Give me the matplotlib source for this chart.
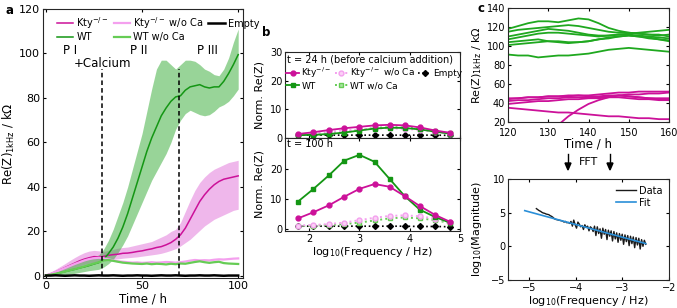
import numpy as np
import matplotlib.pyplot as plt

plt.rcParams['font.family'] = ['DejaVu Sans']
plt.rcParams['font.size'] = 7.5
plt.rcParams['axes.linewidth'] = 0.8
plt.rcParams['axes.edgecolor'] = '#262626'
plt.rcParams['xtick.direction'] = 'in'
plt.rcParams['ytick.direction'] = 'in'
plt.rcParams['xtick.top'] = True
plt.rcParams['ytick.right'] = True
plt.rcParams['xtick.major.size'] = 2.5
plt.rcParams['ytick.major.size'] = 2.5
plt.rcParams['xtick.major.pad'] = 2
plt.rcParams['ytick.major.pad'] = 2
plt.rcParams['mathtext.default'] = 'regular'

KTY = '#cc1199'
KTY_BAND = '#e070d8'
KTY_NOCA = '#f4a0ee'
WT = '#149614'
WT_BAND = '#33aa33'
WT_NOCA = '#66cc55'

# ---------------- panel a: Re(Z) at 1 kHz vs time ----------------
t_a = np.arange(0, 100.1, 2.5)
wt_mean = [0.3, 0.6, 1.0, 1.5, 2.0, 2.5, 3.0, 3.6, 4.1, 4.7, 5.4, 6.0, 7.5, 10, 13, 17, 22, 28, 35,
           42, 49, 56, 62, 67, 72, 75.5, 78.5, 80.5, 81, 83.5, 85, 85.5, 86, 85, 84.5, 85, 85,
           87.5, 91, 95, 99.5]
wt_hi = [0.8, 1.3, 2, 3, 4, 5, 5.8, 6.5, 7.2, 8, 8.6, 9.5, 12, 16, 21, 27, 33, 40, 48, 56, 64, 74,
         84, 93, 97, 97, 95, 93, 95, 97, 97, 96.5, 95, 93, 92, 90.5, 90, 93, 98, 105, 111]
wt_lo = [0, 0.1, 0.3, 0.5, 0.6, 0.9, 1.2, 1.6, 2.0, 2.4, 2.7, 3.0, 4, 5.5, 7.5, 10.5, 14, 18, 23,
         28, 33, 38, 43, 47, 51, 55, 60, 66, 70, 73, 74.5, 73.5, 72.5, 72, 72.5, 74, 76, 77,
         78.5, 81, 84]
kty_mean = [0.3, 1.0, 1.8, 2.8, 3.8, 4.8, 5.8, 6.8, 7.6, 8.2, 8.7, 8.6, 8.8, 9.3, 9.6, 9.8, 10.2,
            10.3, 10.6, 11.0, 11.3, 11.8, 12.2, 12.8, 13.2, 14, 15, 16.5, 18.5, 21.5, 25.5, 29.5,
            33.5, 36.5, 39, 41, 42.5, 43.5, 44, 44.5, 45]
kty_hi = [0.6, 1.8, 3, 4.3, 5.6, 7, 8.3, 9.5, 10.5, 11.2, 11.5, 11.3, 11, 11.5, 12, 12.5, 12.8, 13,
          13.5, 14, 14.5, 15, 15.5, 16.5, 17.5, 18.5, 20, 21, 24, 29, 34, 38.5, 42, 44.5, 46.5,
          48, 49, 50, 51, 51.5, 52]
kty_lo = [0, 0.3, 0.8, 1.5, 2.2, 3, 3.8, 4.5, 5.2, 5.8, 6.2, 6.5, 7, 7.3, 7.5, 7.7, 8, 8.2, 8.4,
          8.6, 8.9, 9.2, 9.5, 9.8, 10.2, 10.8, 11.5, 12.3, 13.5, 15, 16.5, 18.5, 20.5, 22.5, 24,
          25.5, 26.5, 27.5, 28.5, 29.5, 30]
kty_noca = [0.3, 1.0, 1.8, 2.7, 3.6, 4.5, 5.4, 6.2, 7.0, 7.6, 8.0, 8.2, 8.0, 7.5, 7.0, 6.6, 6.4,
            6.2, 6.0, 6.1, 5.9, 6.0, 6.2, 6.0, 6.1, 6.3, 6.2, 6.0, 6.2, 6.5, 6.9, 7.2, 7.0, 7.1,
            7.0, 7.3, 7.5, 7.4, 7.6, 7.8, 7.9]
wt_noca = [0.3, 0.6, 1.0, 1.5, 2.0, 2.6, 3.1, 3.7, 4.3, 5.0, 5.6, 6.2, 7.0, 7.2, 6.8, 6.4, 6.0,
           5.8, 5.6, 5.5, 5.4, 5.6, 5.3, 5.5, 5.4, 5.2, 5.5, 5.3, 5.6, 5.5, 5.9, 6.3, 6.6, 6.2,
           5.9, 6.2, 6.4, 5.8, 5.6, 5.5, 5.4]
empty = [0.2, 0.2, 0.3, 0.2, 0.1, 0.2, 0.3, 0.2, 0.2, 0.1, 0.2, 0.3, 0.2, 0.2, 0.3, 0.2, 0.1, 0.2,
         0.2, 0.3, 0.2, 0.2, 0.1, 0.2, 0.3, 0.2, 0.2, 0.3, 0.2, 0.1, 0.2, 0.2, 0.3, 0.2, 0.2, 0.3,
         0.2, 0.1, 0.2, 0.2, 0.2]
ca_times = [29, 69]

# ---------------- panel b: spectra ----------------
logf = [1.78, 2.08, 2.40, 2.70, 3.00, 3.30, 3.60, 3.90, 4.20, 4.51, 4.81]
b24_kty = [1.4, 2.0, 2.8, 3.4, 3.9, 4.4, 4.6, 4.4, 3.7, 2.6, 1.8]
b24_kty_noca = [1.2, 1.6, 2.1, 2.6, 3.0, 3.3, 3.4, 3.2, 2.8, 2.1, 1.5]
b24_wt = [1.0, 1.1, 1.4, 1.9, 2.6, 3.3, 3.6, 3.5, 3.0, 2.2, 1.5]
b24_wt_noca = [1.0, 1.1, 1.4, 2.0, 2.8, 3.5, 3.8, 3.7, 3.2, 2.3, 1.6]
b24_empty = [1.0, 1.0, 1.0, 1.0, 1.0, 1.0, 1.0, 1.0, 1.0, 1.0, 0.9]
b100_kty = [3.6, 5.6, 8.0, 10.8, 13.4, 15.0, 14.1, 11.0, 7.7, 4.7, 2.4]
b100_kty_noca = [1.2, 1.4, 1.7, 2.2, 3.0, 3.8, 4.4, 4.6, 4.3, 3.5, 2.3]
b100_wt = [9.2, 13.3, 18.0, 22.8, 24.7, 22.4, 16.7, 11.0, 6.5, 4.0, 2.1]
b100_wt_noca = [1.0, 1.2, 1.4, 1.7, 2.2, 2.9, 3.6, 3.9, 3.6, 3.0, 2.0]
b100_empty = [1.0, 1.0, 1.0, 1.0, 1.0, 1.0, 1.0, 1.0, 0.9, 0.9, 0.8]

# ---------------- panel c: long time traces ----------------
t_c = np.arange(120, 160.1, 2.5)
green_traces = [
    [118, 121, 124, 126, 126, 125, 127, 129, 128, 124, 119, 116, 114, 113, 112, 111, 112],
    [115, 117, 118, 119, 120, 121, 122, 121, 119, 117, 115, 114, 114, 113, 112, 112, 110],
    [110, 112, 114, 116, 118, 117, 116, 114, 112, 111, 111, 112, 113, 114, 115, 116, 117],
    [107, 109, 111, 113, 114, 114, 113, 112, 111, 110, 111, 112, 112, 111, 110, 109, 108],
    [104, 105, 106, 107, 105, 104, 103, 104, 105, 107, 109, 110, 111, 110, 108, 107, 106],
    [101, 102, 103, 104, 105, 105, 104, 104, 105, 107, 108, 110, 111, 110, 109, 107, 105],
    [91, 90, 90, 88, 89, 90, 90, 91, 92, 94, 96, 97, 98, 97, 96, 95, 94],
]
magenta_traces = [
    [45, 45, 46, 46, 47, 47, 47, 48, 48, 49, 50, 51, 51, 52, 52, 52, 52],
    [44, 45, 46, 46, 47, 47, 48, 48, 47, 47, 48, 48, 47, 46, 45, 45, 45],
    [42, 43, 43, 44, 45, 45, 46, 46, 46, 46, 47, 48, 47, 46, 45, 44, 44],
    [39, 40, 41, 42, 42, 43, 44, 44, 45, 45, 46, 46, 45, 44, 44, 43, 43],
    [35, 34, 33, 32, 31, 30, 30, 29, 28, 27, 26, 26, 25, 24, 24, 23, 23],
    [np.nan, np.nan, np.nan, np.nan, np.nan, 17, 26, 33, 39, 43, 46, 48, 49, 49, 50, 50, 51],
]

fft_x = np.linspace(-4.85, -2.5, 80)
fft_y = [5.6, 5.45, 5.3, 5.2, 5.05, 4.95, 4.9, 4.8, 4.75, 4.7, 4.55, 4.45,
         4.3, 4.1, 4.0, 3.95, 3.9, 3.85, 3.8, 3.75, 3.6, 3.7, 3.5, 3.55, 3.4, 3.7,
         3.0, 3.9, 3.2, 2.7, 3.6, 3.3, 2.9, 3.1, 2.5, 3.2, 2.8, 3.0, 2.3, 2.9, 2.7,
         2.2, 3.0, 1.6, 2.9, 1.9, 2.6, 1.2, 2.7, 1.8, 2.5, 1.0, 2.4, 1.5, 2.3, 0.8,
         2.2, 1.1, 2.0, 0.6, 1.9, 0.9, 1.8, 0.3, 1.7, 0.7, 1.6, 0.1, 1.5, 0.4, 1.4,
         -0.2, 1.3, 0.2, 1.2, -0.4, 1.0, 0.0, 0.9, 0.3]
fit_x = [-5.1, -2.5]
fit_y = [5.3, 0.41]

W, H = 677, 308
fig = plt.figure(figsize=(W / 100, H / 100), dpi=100)


def px_axes(l, t, r, b):
    return fig.add_axes([l / W, 1 - b / H, (r - l) / W, (b - t) / H])


# ---- a ----
ax = px_axes(43, 9, 243, 278)
ax.fill_between(t_a, kty_lo, kty_hi, color=KTY_BAND, alpha=0.5, lw=0)
ax.fill_between(t_a, wt_lo, wt_hi, color=WT_BAND, alpha=0.5, lw=0)
l1, = ax.plot(t_a, kty_mean, color=KTY, lw=1.1)
l2, = ax.plot(t_a, wt_mean, color=WT, lw=1.1)
l3, = ax.plot(t_a, kty_noca, color=KTY_NOCA, lw=1.6)
l4, = ax.plot(t_a, wt_noca, color=WT_NOCA, lw=1.6)
l5, = ax.plot(t_a, empty, color='black', lw=1.8)
ax.vlines(ca_times, 0, 93, colors='black', linestyles=(0, (3, 2)), lw=1.1)
ax.set_xlim(-1.5, 102.5)
ax.set_ylim(-0.9, 120)
ax.set_xticks([0, 50, 100])
ax.set_yticks(range(0, 121, 20))
ax.tick_params(labelsize=8)
ax.set_xlabel('Time / h', fontsize=8.5, labelpad=1)
ax.set_ylabel('Re(Z)$_{1kHz}$ / k\u03a9', fontsize=8.5)
ax.yaxis.set_label_coords(-0.13, 0.5)
ax.text(12.5, 101.5, 'P I', ha='center', va='center', fontsize=8.5)
ax.text(29.5, 95.5, '+Calcium', ha='center', va='center', fontsize=8.5)
ax.text(48.5, 101.5, 'P II', ha='center', va='center', fontsize=8.5)
ax.text(84, 101.5, 'P III', ha='center', va='center', fontsize=8.5)
ax.legend([l1, l2, l3, l4, l5],
          ['Kty$^{-/-}$', 'WT', 'Kty$^{-/-}$ w/o Ca', 'WT w/o Ca', 'Empty'],
          ncol=3, loc='upper left', bbox_to_anchor=(0.04, 1.0), frameon=False,
          fontsize=7, handlelength=1.7, handletextpad=0.3, columnspacing=0.5,
          labelspacing=0.15, borderaxespad=0.2)
fig.text(6 / W, 1 - 10 / H, 'a', fontsize=8.5, fontweight='bold', va='center')

# ---- b ----
axt = px_axes(285, 52, 460, 138)
axb = px_axes(285, 138, 460, 231)
for a_, d in [(axt, (b24_kty, b24_kty_noca, b24_wt, b24_wt_noca, b24_empty)),
              (axb, (b100_kty, b100_kty_noca, b100_wt, b100_wt_noca, b100_empty))]:
    k, kn, w, wn, e = d
    h_e, = a_.plot(logf, e, color='black', ls=':', marker='D', ms=3, lw=1.2)
    h_wn, = a_.plot(logf, wn, color=WT_NOCA, ls=':', marker='s', ms=3.5, lw=1.4,
                    mfc='#a8e6a0')
    h_kn, = a_.plot(logf, kn, color=KTY_NOCA, ls=':', marker='o', ms=3.5, lw=1.4,
                    mfc='#fbd0f6')
    h_w, = a_.plot(logf, w, color=WT, marker='s', ms=3.5, lw=1.3)
    h_k, = a_.plot(logf, k, color=KTY, marker='o', ms=3.5, lw=1.3)
    a_.set_xlim(1.52, 5)
    a_.set_xticks([2, 3, 4, 5])
    a_.tick_params(labelsize=7)
    a_.set_ylabel('Norm. Re(Z)', fontsize=8)
    a_.yaxis.set_label_coords(-0.115, 0.5)
axt.set_ylim(0, 30)
axt.set_yticks([0, 10, 20, 30])
axt.tick_params(labelbottom=False)
axb.set_ylim(-0.6, 30.3)
axb.set_yticks([0, 10, 20])
axb.set_xlabel('log$_{10}$(Frequency / Hz)', fontsize=8, labelpad=1)
axt.text(0.01, 0.97, 't = 24 h (before calcium addition)', transform=axt.transAxes,
         ha='left', va='top', fontsize=7)
axb.text(0.01, 0.985, 't = 100 h', transform=axb.transAxes, ha='left', va='top',
         fontsize=7)
axt.legend([h_k, h_w, h_kn, h_wn, h_e],
           ['Kty$^{-/-}$', 'WT', 'Kty$^{-/-}$ w/o Ca', 'WT w/o Ca', 'Empty'],
           ncol=3, loc='upper left', bbox_to_anchor=(0.0, 0.85), frameon=False,
           fontsize=6.5, handlelength=1.5, handletextpad=0.2, columnspacing=0.35,
           labelspacing=0.15, borderaxespad=0.0, borderpad=0.1)
fig.text(262 / W, 1 - 33 / H, 'b', fontsize=8.5, fontweight='bold', va='center')

# ---- c top ----
axc = px_axes(508, 8, 669, 122)
for tr in green_traces:
    axc.plot(t_c, tr, color='#1fa81f', lw=1.3)
for tr in magenta_traces:
    axc.plot(t_c, tr, color='#cc1199', lw=1.3)
axc.set_xlim(120, 160)
axc.set_ylim(20, 140)
axc.set_xticks(range(120, 161, 10))
axc.set_yticks(range(20, 141, 20))
axc.tick_params(labelsize=7)
axc.tick_params(axis='x', pad=4)
axc.set_xlabel('Time / h', fontsize=8.5, labelpad=0)
axc.set_ylabel('Re(Z)$_{1kHz}$ / k\u03a9', fontsize=8)
axc.yaxis.set_label_coords(-0.15, 0.5)
fig.text(478 / W, 1 - 8 / H, 'c', fontsize=8.5, fontweight='bold', va='center')

# FFT arrows
for xp in (568, 610):
    fig.add_artist(plt.Line2D([xp / W, xp / W], [1 - 154 / H, 1 - 165 / H], color='black', lw=1))
    fig.patches.append(plt.Polygon([[(xp - 3) / W, 1 - 163 / H], [(xp + 3) / W, 1 - 163 / H],
                                    [xp / W, 1 - 170 / H]], closed=True, color='black',
                                   transform=fig.transFigure, figure=fig))
fig.text(589 / W, 1 - 162 / H, 'FFT', ha='center', va='center', fontsize=8)

# ---- c bottom ----
axf = px_axes(508, 179, 669, 280)
axf.plot(fft_x, fft_y, color='#1a1a1a', lw=1.0, label='Data')
axf.plot(fit_x, fit_y, color='#2a8fd8', lw=1.2, label='Fit')
axf.set_xlim(-5.46, -2)
axf.set_ylim(-5, 10)
axf.set_xticks([-5, -4, -3, -2])
axf.set_yticks([-5, 0, 5, 10])
axf.tick_params(labelsize=7)
axf.set_xlabel('log$_{10}$(Frequency / Hz)', fontsize=8, labelpad=1)
axf.set_ylabel('log$_{10}$(Magnitude)', fontsize=8)
axf.yaxis.set_label_coords(-0.15, 0.5)
axf.legend(loc='upper right', frameon=False, fontsize=7, handlelength=2.0,
           handletextpad=0.3, labelspacing=0.2, borderaxespad=0.3)

fig.savefig('out.png', dpi=100)
